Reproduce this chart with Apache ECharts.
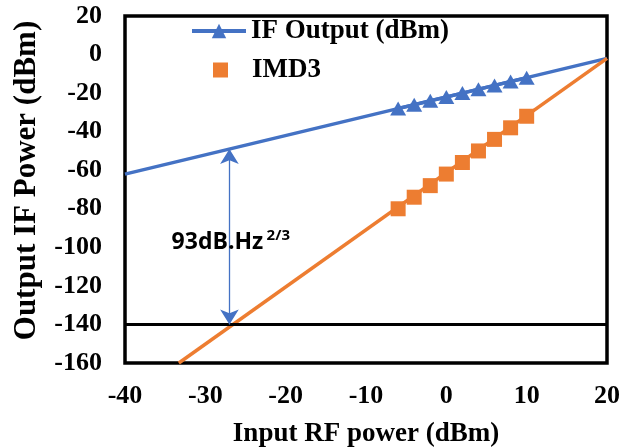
<!DOCTYPE html>
<html>
<head>
<meta charset="utf-8">
<script src="https://cdn.jsdelivr.net/npm/echarts@6/dist/echarts.min.js"></script>
<style>html,body{margin:0;padding:0;background:#fff}#c{width:621px;height:447px}</style>
</head>
<body>
<div id="c"></div>
<script>
// ---- data ----
const rfIn = [-6, -4, -2, 0, 2, 4, 6, 8, 10];
const ifOut = [-28, -26, -24, -22, -20, -18, -16, -14, -12];
const imd3 = [-80, -74, -68, -62, -56, -50, -44, -38, -32];
const ifFitX = [-40, 20];
const ifFitY = [-62, -2];
const imdFitX = [-33.3, 20];
const imdFitY = [-160, -2];
const noiseFloor = -140;
const arrowX = -27;
const arrowTop = -49;
const arrowBottom = -140;
const annotX = -34.2;
const annotY = -97.5;
const annotMain = '93dB.Hz';
const annotSup = '2/3';
const xTicks = [-40, -30, -20, -10, 0, 10, 20];
const yTicks = [20, 0, -20, -40, -60, -80, -100, -120, -140, -160];

const BLUE = '#4472C4', ORANGE = '#ED7D31';
const SERIF = "'Liberation Serif','Times New Roman',serif";
const zip = (xs, ys) => xs.map((x, i) => [x, ys[i]]);
const legendText = {fontFamily: SERIF, fontWeight: 'bold', fontSize: 27, color: '#000'};

const chart = echarts.init(document.getElementById('c'), null, {renderer: 'canvas'});
chart.setOption({
  animation: false,
  backgroundColor: '#fff',
  grid: {left: 125, right: 14, top: 16, bottom: 84, show: true, borderColor: '#000', borderWidth: 3.5,
         containLabel: false, outerBoundsMode: 'none'},
  legend: [
    {
      left: 190, top: 17.5, padding: 0,
      itemWidth: 54, itemHeight: 18,
      lineStyle: {width: 4},
      data: ['IF Output (dBm)'],
      textStyle: legendText
    },
    {
      left: 213, top: 56.5, padding: 0,
      itemWidth: 15, itemHeight: 15,
      data: ['IMD3'],
      textStyle: Object.assign({}, legendText, {padding: [0, 0, 0, 19]})
    }
  ],
  xAxis: {
    type: 'value', min: xTicks[0], max: xTicks[xTicks.length - 1], interval: 10,
    name: 'Input RF power (dBm)', nameLocation: 'middle', nameGap: 58,
    nameTextStyle: {fontFamily: SERIF, fontWeight: 'bold', fontSize: 27, color: '#000'},
    axisLine: {show: false}, axisTick: {show: false}, splitLine: {show: false},
    axisLabel: {fontFamily: SERIF, fontWeight: 'bold', fontSize: 26, color: '#000', margin: 20}
  },
  yAxis: {
    type: 'value', min: yTicks[yTicks.length - 1], max: yTicks[0], interval: 20,
    name: 'Output IF Power (dBm)', nameLocation: 'middle', nameGap: 83, nameRotate: 90,
    nameTextStyle: {fontFamily: SERIF, fontWeight: 'bold', fontSize: 31, color: '#000', padding: [0, 0, 0, 18]},
    axisLine: {show: false}, axisTick: {show: false}, splitLine: {show: false},
    axisLabel: {fontFamily: SERIF, fontWeight: 'bold', fontSize: 26, color: '#000', margin: 23}
  },
  series: [
    {
      name: 'ifFit', type: 'line', data: zip(ifFitX, ifFitY), symbol: 'none', silent: true,
      lineStyle: {color: BLUE, width: 3.5}, z: 2
    },
    {
      name: 'imdFit', type: 'line', data: zip(imdFitX, imdFitY), symbol: 'none', silent: true,
      lineStyle: {color: ORANGE, width: 3.5}, z: 2,
      markLine: {
        silent: true, symbol: ['none', 'none'], label: {show: false},
        lineStyle: {color: '#000', width: 3, type: 'solid'},
        data: [{yAxis: noiseFloor}]
      }
    },
    {
      name: 'arrow', type: 'line', data: [], symbol: 'none',
      markLine: {
        silent: true, symbol: ['arrow', 'arrow'], symbolSize: [14, 15], label: {show: false},
        lineStyle: {color: BLUE, width: 1.3, type: 'solid'},
        data: [[{coord: [arrowX, arrowTop]}, {coord: [arrowX, arrowBottom]}]]
      },
      markPoint: {
        silent: true, symbol: 'circle', symbolSize: 0,
        data: [{coord: [annotX, annotY]}],
        label: {
          show: true, position: 'right', distance: 0,
          formatter: '{a|' + annotMain + '} {b|' + annotSup + '}',
          rich: {
            a: {fontFamily: "'Open Sans',sans-serif", fontWeight: 'bold', fontSize: 23, color: '#000'},
            b: {fontFamily: "'Open Sans',sans-serif", fontWeight: 'bold', fontSize: 15, color: '#000', padding: [0, 0, 14, 0]}
          }
        }
      }
    },
    {
      name: 'IF Output (dBm)', type: 'line', data: zip(rfIn, ifOut),
      symbol: 'triangle', symbolSize: [16, 14], showAllSymbol: true,
      itemStyle: {color: BLUE, opacity: 1}, lineStyle: {color: BLUE, width: 3.5}, z: 3
    },
    {
      name: 'IMD3', type: 'scatter', data: zip(rfIn, imd3),
      symbol: 'rect', symbolSize: 15,
      itemStyle: {color: ORANGE, opacity: 1}, z: 3
    }
  ]
});
</script>
</body>
</html>
